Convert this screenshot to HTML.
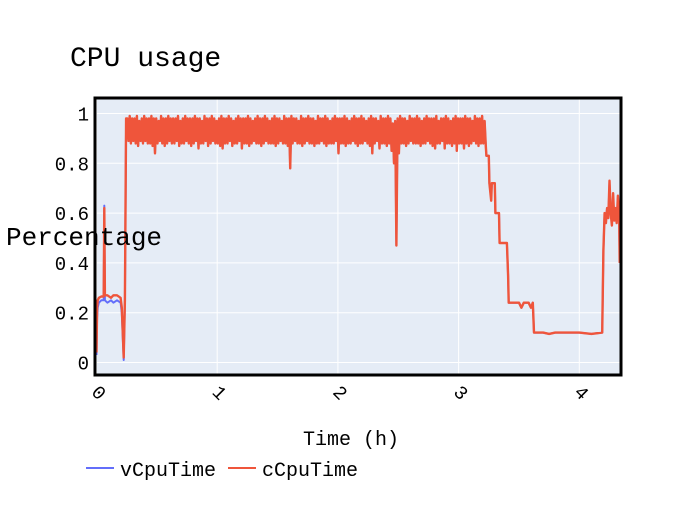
<!DOCTYPE html>
<html><head><meta charset="utf-8"><style>
body{margin:0;background:#fff;}
svg text{font-family:"Liberation Mono",monospace;fill:#000;}
</style></head><body>
<svg id="chart" width="700" height="500" xmlns="http://www.w3.org/2000/svg">
<rect width="700" height="500" fill="#fff"/>
<text x="70" y="66" font-size="28">CPU usage</text>
<rect x="95" y="98" width="526" height="277" fill="#e5ecf6"/>
<g id="grid"></g>
<g id="series"></g>
<rect x="95" y="98" width="526" height="277" fill="none" stroke="#000" stroke-width="3"/>
<g id="ticks"></g>
<text x="6" y="245" font-size="26">Percentage</text>
<text x="351" y="445" font-size="20" text-anchor="middle">Time (h)</text>
<g>
<g>
<line x1="86" y1="468" x2="114" y2="468" stroke="#636efa" stroke-width="2"/>
<text x="120" y="476" font-size="20">vCpuTime</text></g>
<g>
<line x1="228" y1="468" x2="256" y2="468" stroke="#ef553b" stroke-width="2"/>
<text x="262" y="476" font-size="20">cCpuTime</text></g>
</g>
</svg>
<script>
const xTicks=[0,1,2,3,4];
const yTicks=[0,0.2,0.4,0.6,0.8,1];
const yTickLabels=["0","0.2","0.4","0.6","0.8","1"];
const timeLeft=[0,0.005,0.01,0.02,0.04,0.06,0.065,0.07,0.09,0.12,0.14,0.17,0.2,0.21,0.225,0.235,0.245];
const cLeft=[0.04,0.22,0.25,0.26,0.265,0.265,0.62,0.27,0.27,0.26,0.27,0.27,0.26,0.22,0.02,0.25,0.98];
const vLeft=[0.03,0.18,0.22,0.24,0.25,0.25,0.63,0.25,0.24,0.25,0.24,0.25,0.24,0.2,0.01,0.24,0.98];
// noisy region: per-bin max and min (bins start at noiseStart, width noiseStep)
const noiseStart=0.25, noiseStep=0.02;
const noiseHigh=[0.98,0.99,0.98,0.98,0.99,0.97,0.98,0.99,0.98,0.98,
0.99,0.98,0.98,0.97,0.99,0.98,0.98,0.99,0.98,0.98,
0.98,0.99,0.97,0.98,0.99,0.98,0.98,0.98,0.99,0.98,
0.98,0.97,0.99,0.98,0.98,0.99,0.98,0.97,0.98,0.99,
0.98,0.98,0.99,0.98,0.97,0.98,0.99,0.98,0.98,0.98,
0.99,0.98,0.97,0.98,0.99,0.98,0.98,0.99,0.98,0.97,
0.98,0.99,0.98,0.98,0.97,0.99,0.98,0.98,0.99,0.98,
0.98,0.97,0.99,0.98,0.98,0.99,0.98,0.98,0.97,0.99,
0.98,0.98,0.99,0.98,0.97,0.98,0.99,0.98,0.98,0.98,
0.99,0.98,0.97,0.98,0.99,0.98,0.98,0.99,0.98,0.97,
0.98,0.99,0.98,0.98,0.97,0.99,0.98,0.98,0.99,0.98,
0.96,0.97,0.98,0.99,0.98,0.98,0.97,0.99,0.98,0.98,
0.99,0.98,0.97,0.98,0.99,0.98,0.98,0.98,0.99,0.97,
0.98,0.98,0.99,0.98,0.97,0.98,0.99,0.98,0.98,0.98,
0.99,0.98,0.98,0.97,0.99,0.98,0.98,0.99,0.97];
const noiseLow=[0.89,0.88,0.89,0.88,0.87,0.89,0.88,0.89,0.88,0.88,
0.87,0.84,0.88,0.89,0.88,0.87,0.88,0.89,0.88,0.88,
0.89,0.87,0.88,0.88,0.89,0.88,0.87,0.88,0.89,0.86,
0.88,0.88,0.89,0.87,0.88,0.89,0.88,0.88,0.87,0.86,
0.88,0.88,0.89,0.87,0.88,0.88,0.89,0.86,0.88,0.88,
0.87,0.88,0.89,0.88,0.88,0.87,0.88,0.89,0.88,0.88,
0.88,0.87,0.88,0.89,0.88,0.88,0.87,0.78,0.88,0.89,
0.88,0.88,0.87,0.88,0.89,0.88,0.88,0.87,0.88,0.88,
0.89,0.88,0.87,0.88,0.88,0.88,0.89,0.84,0.88,0.88,
0.87,0.88,0.88,0.89,0.88,0.87,0.88,0.88,0.89,0.88,
0.87,0.84,0.88,0.89,0.86,0.88,0.88,0.87,0.88,0.85,
0.80,0.47,0.84,0.88,0.88,0.87,0.88,0.89,0.88,0.88,
0.88,0.87,0.88,0.88,0.89,0.88,0.87,0.86,0.88,0.88,
0.89,0.86,0.88,0.88,0.87,0.88,0.85,0.88,0.88,0.86,
0.88,0.87,0.88,0.89,0.88,0.87,0.88,0.88,0.87];
const timeTail=[3.23,3.25,3.255,3.27,3.275,3.30,3.305,3.335,3.34,3.40,3.41,3.415,3.5,3.52,3.54,3.58,3.6,3.615,3.625,3.7,3.75,3.8,4.0,4.1,4.19,4.2,4.21,4.22,4.23,4.24,4.25,4.26,4.27,4.28,4.29,4.3,4.31,4.32,4.33,4.335];
const cTail=[0.83,0.83,0.72,0.65,0.72,0.72,0.6,0.6,0.48,0.48,0.35,0.24,0.24,0.22,0.24,0.24,0.22,0.24,0.12,0.12,0.115,0.12,0.12,0.115,0.12,0.45,0.6,0.56,0.62,0.58,0.73,0.6,0.55,0.68,0.57,0.62,0.56,0.67,0.6,0.4];
const vTail=[0.83,0.83,0.72,0.66,0.72,0.72,0.6,0.6,0.48,0.48,0.35,0.24,0.24,0.22,0.24,0.24,0.22,0.24,0.12,0.12,0.115,0.12,0.12,0.115,0.12,0.45,0.6,0.57,0.62,0.58,0.72,0.6,0.56,0.67,0.57,0.62,0.57,0.66,0.6,0.4];

const X0=96.5, XS=120.7, Y0=362.5, YS=249;
const xPos=v=>X0+v*XS, yPos=v=>Y0-v*YS;
const NS="http://www.w3.org/2000/svg";
const grid=document.getElementById('grid'), ticks=document.getElementById('ticks'), series=document.getElementById('series');
yTicks.forEach((v,i)=>{
  const l=document.createElementNS(NS,'line');
  
  
  l.setAttribute('x1',95);l.setAttribute('x2',621);l.setAttribute('y1',yPos(v));l.setAttribute('y2',yPos(v));
  l.setAttribute('stroke','#fff');l.setAttribute('stroke-width',1);grid.appendChild(l);
  const t=document.createElementNS(NS,'text');
  
  
  t.setAttribute('x',89);t.setAttribute('y',yPos(v)+7);t.setAttribute('text-anchor','end');t.setAttribute('font-size',19);
  t.textContent=yTickLabels[i];ticks.appendChild(t);
});
xTicks.forEach(v=>{
  const l=document.createElementNS(NS,'line');
  
  
  l.setAttribute('x1',xPos(v));l.setAttribute('x2',xPos(v));l.setAttribute('y1',98);l.setAttribute('y2',375);
  l.setAttribute('stroke','#fff');l.setAttribute('stroke-width',1);grid.appendChild(l);
  const t=document.createElementNS(NS,'text');
  
  
  const x=xPos(v)-6, y=393;
  t.setAttribute('x',x);t.setAttribute('y',y);t.setAttribute('font-size',19);
  t.setAttribute('transform','rotate(45 '+x+' '+y+')');
  t.textContent=String(v);ticks.appendChild(t);
});
function buildPoints(left,tail){
  const pts=[];
  timeLeft.forEach((t,i)=>pts.push([t,left[i]]));
  for(let i=0;i<noiseHigh.length;i++){
    const t0=noiseStart+i*noiseStep;
    pts.push([t0+noiseStep*0.25,noiseHigh[i]]);
    pts.push([t0+noiseStep*0.75,noiseLow[i]]);
  }
  timeTail.forEach((t,i)=>pts.push([t,tail[i]]));
  return pts;
}
function draw(pts,color,name,w){
  const p=document.createElementNS(NS,'polyline');
  
  
  p.setAttribute('points',pts.map(d=>xPos(d[0]).toFixed(1)+','+yPos(d[1]).toFixed(1)).join(' '));
  p.setAttribute('fill','none');p.setAttribute('stroke',color);p.setAttribute('stroke-width',w);
  p.setAttribute('stroke-linejoin','round');
  series.appendChild(p);
}
draw(buildPoints(vLeft,vTail),'#636efa','vcputime-line',2);
draw(buildPoints(cLeft,cTail),'#ef553b','ccputime-line',2.4);
</script>
</body></html>
